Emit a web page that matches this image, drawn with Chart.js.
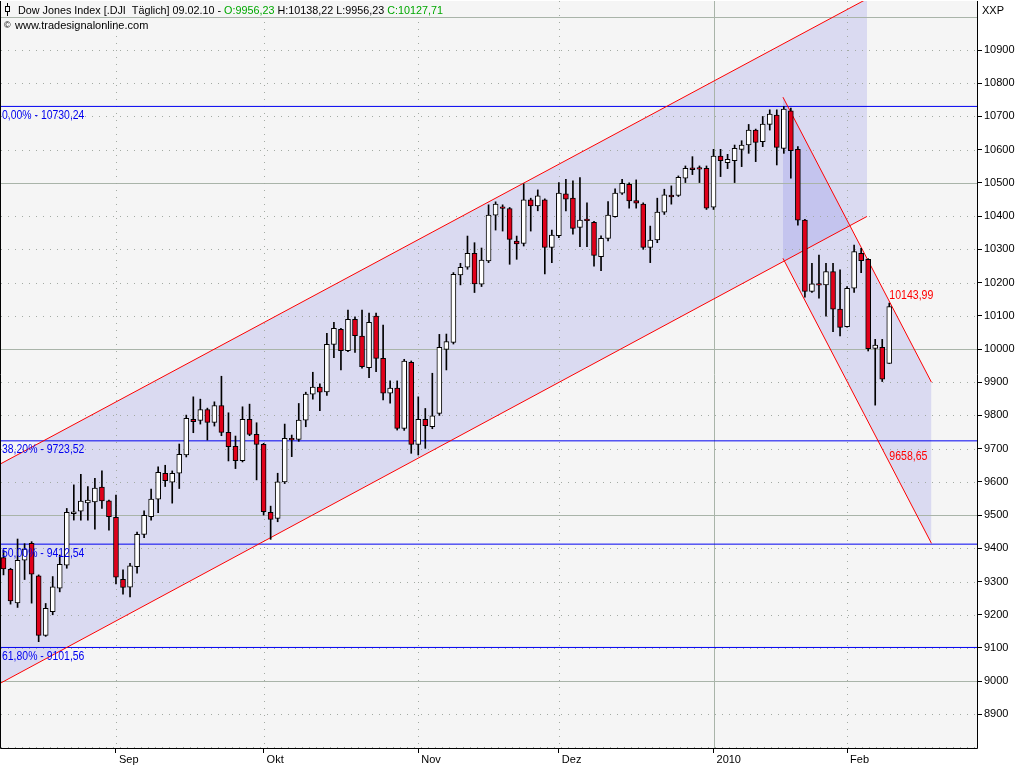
<!DOCTYPE html>
<html lang="de">
<head>
<meta charset="utf-8">
<title>Dow Jones Index</title>
<script src="https://cdn.jsdelivr.net/npm/chart.js"></script>
<style>
html,body{margin:0;padding:0;background:#fff;overflow:hidden;}
canvas{display:block;}
</style>
</head>
<body>
<canvas id="chart" width="1024" height="768"></canvas>
<script>
// ---------- data ----------
const dates = [
'10.08.09','11.08.09','12.08.09','13.08.09','14.08.09','17.08.09','18.08.09','19.08.09','20.08.09','21.08.09','24.08.09','25.08.09','26.08.09','27.08.09','28.08.09','31.08.09',
'01.09.09','02.09.09','03.09.09','04.09.09','08.09.09','09.09.09','10.09.09','11.09.09','14.09.09','15.09.09','16.09.09','17.09.09','18.09.09','21.09.09','22.09.09','23.09.09','24.09.09','25.09.09','28.09.09','29.09.09','30.09.09',
'01.10.09','02.10.09','05.10.09','06.10.09','07.10.09','08.10.09','09.10.09','12.10.09','13.10.09','14.10.09','15.10.09','16.10.09','19.10.09','20.10.09','21.10.09','22.10.09','23.10.09','26.10.09','27.10.09','28.10.09','29.10.09','30.10.09',
'02.11.09','03.11.09','04.11.09','05.11.09','06.11.09','09.11.09','10.11.09','11.11.09','12.11.09','13.11.09','16.11.09','17.11.09','18.11.09','19.11.09','20.11.09','23.11.09','24.11.09','25.11.09','27.11.09','30.11.09',
'01.12.09','02.12.09','03.12.09','04.12.09','07.12.09','08.12.09','09.12.09','10.12.09','11.12.09','14.12.09','15.12.09','16.12.09','17.12.09','18.12.09','21.12.09','22.12.09','23.12.09','24.12.09','28.12.09','29.12.09','30.12.09','31.12.09',
'04.01.10','05.01.10','06.01.10','07.01.10','08.01.10','11.01.10','12.01.10','13.01.10','14.01.10','15.01.10','19.01.10','20.01.10','21.01.10','22.01.10','25.01.10','26.01.10','27.01.10','28.01.10','29.01.10',
'01.02.10','02.02.10','03.02.10','04.02.10','05.02.10','08.02.10','09.02.10'];

const opens = [
9372,9337,9236,9364,9415,9317,9138,9209,9280,9349,9504,9512,9537,9540,9584,9543,
9493,9307,9283,9345,9442,9495,9548,9626,9599,9626,9681,9788,9785,9818,9779,9830,9749,9707,9664,9788,9743,
9713,9508,9490,9600,9731,9728,9786,9864,9885,9871,10014,10059,9995,10089,10039,9944,10099,9972,9867,9882,9761,9960,
9713,9788,9766,9806,9999,10020,10223,10246,10288,10195,10265,10403,10428,10423,10325,10318,10449,10431,10449,10306,
10341,10467,10454,10366,10391,10381,10278,10333,10398,10469,10496,10447,10436,10306,10328,10412,10463,10462,10514,10545,10546,10544,
10427,10581,10561,10567,10601,10614,10659,10624,10676,10704,10604,10717,10601,10388,10173,10197,10193,10233,10120,
10067,10183,10288,10270,10002,10005,9956.23];

const highs = [
9395,9340,9428,9414,9420,9320,9234,9315,9380,9520,9591,9623,9586,9611,9633,9545,
9560,9335,9355,9449,9513,9578,9645,9650,9633,9714,9801,9856,9849,9822,9841,9918,9808,9738,9826,9834,9778,
9716,9527,9626,9774,9741,9836,9870,9930,9895,10047,10080,10062,10117,10097,10117,10108,10108,10072,9904,9904,9969,9964,
9856,9821,9927,10044,10045,10230,10258,10340,10320,10304,10434,10443,10434,10426,10340,10497,10454,10479,10452,10358,
10501,10511,10506,10516,10440,10384,10341,10444,10482,10511,10500,10509,10440,10370,10454,10481,10491,10521,10551,10579,10551,10551,
10601,10601,10586,10614,10627,10676,10662,10700,10720,10720,10730,10725,10609,10390,10258,10283,10258,10258,10238,
10188,10313,10303,10272,10029,10029,10138.22];

const lows = [
9320,9232,9222,9306,9235,9119,9135,9200,9269,9340,9485,9485,9485,9458,9520,9455,
9293,9262,9254,9325,9432,9485,9507,9586,9536,9580,9675,9748,9774,9726,9768,9739,9663,9640,9660,9739,9606,
9500,9427,9480,9595,9676,9722,9766,9849,9814,9860,9974,9937,9992,9990,9942,9914,9932,9847,9837,9756,9755,9686,
9681,9701,9760,9800,9937,10015,10193,10240,10170,10188,10260,10358,10355,10255,10270,10310,10355,10416,10226,10260,
10335,10416,10346,10308,10308,10249,10236,10325,10397,10465,10424,10424,10300,10260,10320,10405,10436,10459,10501,10525,10501,10420,
10420,10519,10543,10501,10549,10589,10564,10609,10659,10554,10589,10514,10373,10156,10170,10153,10099,10052,10039,
10066,10170,10230,9994,9831,9902,9956.23];

const closes = [
9338,9242,9364,9398,9322,9138,9219,9284,9352,9508,9510,9542,9545,9581,9543,9495,
9313,9282,9347,9442,9499,9548,9629,9604,9626,9683,9791,9781,9818,9779,9830,9749,9706,9664,9788,9743,9713,
9510,9487,9600,9731,9726,9786,9864,9885,9870,10014,10062,9995,10089,10040,9947,10080,9972,9867,9882,9761,9964,9713,
9788,9769,9799,10005,10022,10225,10246,10288,10196,10268,10403,10436,10423,10330,10316,10449,10431,10461,10306,10343,
10469,10451,10363,10388,10386,10282,10333,10403,10469,10499,10446,10439,10306,10328,10412,10464,10458,10517,10544,10540,10541,10424,
10581,10567,10571,10604,10614,10659,10622,10677,10707,10607,10722,10597,10388,10173,10196,10192,10233,10120,10065,
10183,10293,10266,10001,10012,9909,10127.71];

const monthTickIdx = [16, 37, 59, 79, 101, 120];
const monthTickLabels = ['Sep', 'Okt', 'Nov', 'Dez', '2010', 'Feb'];
const priceTicks = [8900, 9000, 9100, 9200, 9300, 9400, 9500, 9600, 9700, 9800, 9900, 10000, 10100, 10200, 10300, 10400, 10500, 10600, 10700, 10800, 10900];
const gridLevels = [8800, 8900, 9000, 9100, 9200, 9300, 9400, 9500, 9600, 9700, 9800, 9900, 10000, 10100, 10200, 10300, 10400, 10500, 10600, 10700, 10800, 10900, 11000];
const solidLevels = [9000, 9500, 10000, 10500, 11000];

const fibLevels = [10730.24, 9723.52, 9412.54, 9101.56];
const fibPercents = ['0,00%', '38,20%', '50,00%', '61,80%'];

const channel1X = [-0.356, 122.83];
const channel1Upper = [9655, 11054];
const channel1Lower = [8995, 10399];
const channel2X = [110.88, 132.0];
const channel2Upper = [10758, 9900];
const channel2Lower = [10273, 9415];
const channelEndIdx = 126;
const channelEndValues = [10143.99, 9658.65];

// ---------- styling ----------
const X_MIN = -0.356, X_MAX = 138.48;
const Y_MIN = 8798.92, Y_MAX = 11047.56;
const RED = '#E0001A';
const GREEN = '#00A800';
const FIB_BLUE = '#0000F0';
const CH_RED = '#FF0000';
const CH_FILL = 'rgba(90,90,225,0.17)';
const GRID_SOLID = '#A9B4A9';
const GRID_DOT = '#A3AAA3';
const FONT = '"Liberation Sans", Arial, sans-serif';

const fmt = v => v.toFixed(2).replace('.', ',');
const idx = opens.map((_, i) => i);

const bodyData = idx.map(i => ({x: i, y: [opens[i], closes[i]]}));
const wickData = idx.map(i => ({x: i, y: [lows[i], highs[i]]}));
const bodyColors = idx.map(i => closes[i] >= opens[i] ? '#FFFFFF' : RED);

const datasets = [
  {type: 'bar', label: 'Körper', data: bodyData, backgroundColor: bodyColors, borderColor: '#000000',
   borderWidth: 1, borderSkipped: false, barThickness: 5, grouped: false, order: 0},
  {type: 'bar', label: 'Docht', data: wickData, backgroundColor: '#000000', borderWidth: 0,
   barThickness: 1, grouped: false, order: 1}
];
fibLevels.forEach(l => datasets.push({
  type: 'line', data: [{x: X_MIN, y: l}, {x: X_MAX, y: l}], borderColor: FIB_BLUE, borderWidth: 1,
  pointRadius: 0, fill: false, order: 3
}));
function channel(xs, up, lo) {
  datasets.push({type: 'line', data: xs.map((x, k) => ({x, y: up[k]})), borderColor: CH_RED, borderWidth: 1,
    pointRadius: 0, fill: '+1', backgroundColor: CH_FILL, order: 2});
  datasets.push({type: 'line', data: xs.map((x, k) => ({x, y: lo[k]})), borderColor: CH_RED, borderWidth: 1,
    pointRadius: 0, fill: false, order: 2});
}
channel(channel1X, channel1Upper, channel1Lower);
channel(channel2X, channel2Upper, channel2Lower);

function scaledText(ctx, text, x, y, sx) {
  ctx.save();
  ctx.translate(x, y);
  ctx.scale(sx, 1);
  ctx.fillText(text, 0, 0);
  ctx.restore();
}

const decor = {
  id: 'decor',
  beforeDraw(chart) {
    const {ctx, chartArea: a, width, height} = chart;
    ctx.save();
    ctx.fillStyle = '#FFFFFF';
    ctx.fillRect(0, 0, width, height);
    ctx.fillStyle = '#F5F5F5';
    ctx.fillRect(a.left, a.top, a.right - a.left, a.bottom - a.top);
    ctx.restore();
  },
  beforeDatasetsDraw(chart) {
    const {ctx, chartArea: a, scales: {x, y}} = chart;
    ctx.save();
    ctx.beginPath();
    ctx.rect(a.left, a.top, a.right - a.left, a.bottom - a.top);
    ctx.clip();
    ctx.lineWidth = 1;
    gridLevels.forEach(v => {
      const py = Math.min(Math.round(y.getPixelForValue(v)), a.bottom - 1) + 0.5;
      const solid = solidLevels.includes(v);
      ctx.strokeStyle = solid ? GRID_SOLID : GRID_DOT;
      ctx.setLineDash(solid ? [] : [1, 6]);
      ctx.beginPath(); ctx.moveTo(a.left, py); ctx.lineTo(a.right, py); ctx.stroke();
    });
    monthTickIdx.forEach((i, k) => {
      const px = Math.round(x.getPixelForValue(i)) + 0.5;
      const solid = monthTickLabels[k] === '2010';
      ctx.strokeStyle = solid ? GRID_SOLID : GRID_DOT;
      ctx.setLineDash(solid ? [] : [1, 6]);
      ctx.beginPath(); ctx.moveTo(px, a.top); ctx.lineTo(px, a.bottom); ctx.stroke();
    });
    ctx.restore();
  },
  afterDatasetsDraw(chart) {
    const {ctx, chartArea: a, scales: {x, y}} = chart;
    ctx.save();
    ctx.textBaseline = 'alphabetic';
    ctx.textAlign = 'left';
    // Fibonacci labels
    ctx.font = '12px ' + FONT;
    ctx.fillStyle = FIB_BLUE;
    fibLevels.forEach((l, k) => {
      const py = y.getPixelForValue(l);
      scaledText(ctx, fibPercents[k] + ' - ' + fmt(l), a.left + 1, py + 12.5, 0.87);
    });
    // channel end labels
    ctx.font = '12px ' + FONT;
    ctx.fillStyle = CH_RED;
    channelEndValues.forEach(v => {
      scaledText(ctx, fmt(v), x.getPixelForValue(channelEndIdx), y.getPixelForValue(v) - 2, 0.88);
    });
    // title
    ctx.font = '11px ' + FONT;
    const n = opens.length - 1;
    const segs = [
      ['Dow Jones Index [.DJI  Täglich] ' + dates[n] + ' - ', '#000000'],
      ['O:' + fmt(opens[n]), GREEN],
      [' H:' + fmt(highs[n]) + ' L:' + fmt(lows[n]) + ' ', '#000000'],
      ['C:' + fmt(closes[n]), GREEN]
    ];
    const sx = 0.98;
    let total = 0;
    segs.forEach(s => total += ctx.measureText(s[0]).width * sx);
    ctx.fillStyle = '#F5F5F5';
    ctx.fillRect(a.left, a.top, 18 + total + 3, 16);
    let tx = 18;
    segs.forEach(([t, c]) => { ctx.fillStyle = c; scaledText(ctx, t, tx, 14, sx); tx += ctx.measureText(t).width * sx; });
    // icon
    ctx.strokeStyle = '#000'; ctx.lineWidth = 1;
    ctx.beginPath(); ctx.moveTo(7.5, 3); ctx.lineTo(7.5, 16); ctx.stroke();
    ctx.fillStyle = '#F5F5F5';
    ctx.fillRect(5, 6, 5, 6);
    ctx.strokeRect(5.5, 6.5, 4, 5);
    // second line
    ctx.fillStyle = '#000';
    ctx.font = '9px ' + FONT;
    ctx.fillText('©', 4, 28);
    ctx.font = '11px ' + FONT;
    ctx.fillText('www.tradesignalonline.com', 15, 29);
    ctx.restore();
  },
  afterDraw(chart) {
    const {ctx, chartArea: a} = chart;
    ctx.save();
    ctx.strokeStyle = '#000';
    ctx.lineWidth = 1;
    ctx.beginPath();
    ctx.moveTo(a.left - 0.5, a.top);
    ctx.lineTo(a.left - 0.5, a.bottom + 0.5);
    ctx.lineTo(a.right + 0.5, a.bottom + 0.5);
    ctx.lineTo(a.right + 0.5, a.top);
    ctx.stroke();
    ctx.fillStyle = '#000';
    ctx.font = '11px ' + FONT;
    ctx.textBaseline = 'alphabetic';
    ctx.fillText('XXP', a.right + 5, 14);
    ctx.restore();
  }
};

new Chart(document.getElementById('chart'), {
  data: {datasets},
  options: {
    responsive: false,
    devicePixelRatio: 1,
    animation: false,
    events: [],
    layout: {padding: {left: 1, top: 1, right: 0, bottom: 0}},
    plugins: {
      legend: {display: false},
      tooltip: {enabled: false},
      title: {display: false},
      filler: {drawTime: 'beforeDatasetsDraw'}
    },
    scales: {
      x: {
        type: 'linear', position: 'bottom', min: X_MIN, max: X_MAX, offset: false,
        grid: {display: true, drawOnChartArea: false, drawTicks: true, tickLength: 5, tickColor: '#000', color: 'rgba(0,0,0,0)', offset: false},
        border: {display: false},
        afterBuildTicks: s => { s.ticks = monthTickIdx.map(v => ({value: v})); },
        ticks: {
          autoSkip: false, maxRotation: 0, minRotation: 0, align: 'start', labelOffset: 3, padding: 0,
          color: '#000',
          font: {family: '"Liberation Sans Narrow", "Arial Narrow", "Liberation Sans", Arial, sans-serif', size: 11},
          callback: v => { const k = monthTickIdx.indexOf(v); return k >= 0 ? monthTickLabels[k] : ''; }
        },
        afterFit: s => { s.height = 20; s.paddingLeft = 0; s.paddingRight = 0; s.paddingTop = 0; s.paddingBottom = 0; }
      },
      y: {
        type: 'linear', position: 'right', min: Y_MIN, max: Y_MAX,
        grid: {display: true, drawOnChartArea: false, drawTicks: true, tickLength: 5, tickColor: '#000', color: 'rgba(0,0,0,0)'},
        border: {display: false},
        afterBuildTicks: s => { s.ticks = priceTicks.map(v => ({value: v})); },
        ticks: {
          autoSkip: false, padding: 2, color: '#000',
          font: {family: FONT, size: 11},
          callback: v => String(v)
        },
        afterFit: s => { s.width = 47; s.paddingLeft = 0; s.paddingRight = 0; s.paddingTop = 0; s.paddingBottom = 0; }
      }
    }
  },
  plugins: [decor]
});
</script>
</body>
</html>
